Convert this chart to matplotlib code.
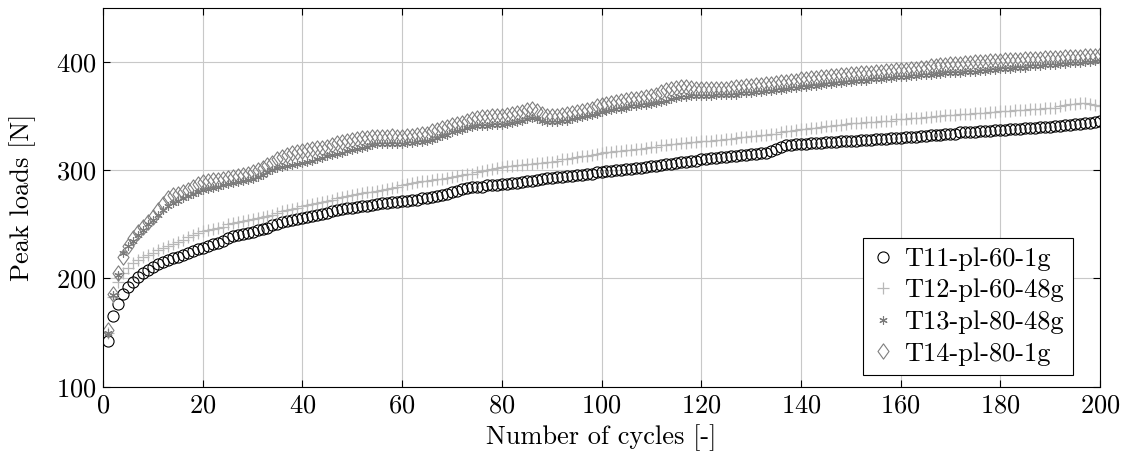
import numpy as np
import matplotlib.pyplot as plt
from matplotlib.path import Path

plt.rcParams['font.family'] = 'cmr10'
plt.rcParams['mathtext.fontset'] = 'cm'
plt.rcParams['axes.formatter.use_mathtext'] = True
plt.rcParams['font.size'] = 19

labels = ["T11-pl-60-1g", "T12-pl-60-48g", "T13-pl-80-48g", "T14-pl-80-1g"]

cycles = np.arange(1, 201)

t11 = [142,165,176,186,192,197,201,205,208,211,
       213,215,217,219,220,222,224,225,227,228,
       230,232,233,235,237,239,240,241,242,243,
       245,246,247,249,250,252,253,254,255,256,
       257,258,259,260,261,262,263,264,265,265,
       266,267,267,268,269,270,270,271,271,272,
       272,273,273,274,274,275,276,277,278,280,
       281,283,284,285,285,285,286,286,286,287,
       287,288,288,289,290,290,291,292,293,293,
       294,294,295,295,296,296,297,297,298,298,
       299,299,300,300,301,301,302,302,303,304,
       304,305,306,306,307,308,308,309,309,310,
       310,311,311,312,312,313,313,314,314,315,
       315,316,316,318,320,322,323,323,324,324,
       324,325,325,325,326,326,326,327,327,327,
       327,328,328,328,329,329,329,330,330,330,
       331,331,331,332,332,333,333,333,334,334,
       334,335,335,335,335,336,336,336,337,337,
       337,338,338,338,339,339,339,340,340,340,
       341,341,342,342,343,343,344,344,345,346]

t12 = [150,183,197,205,210,214,217,220,222,224,
       226,228,230,232,234,236,238,240,242,244,
       245,246,247,248,250,251,252,253,254,255,
       256,257,258,259,261,262,263,264,265,267,
       268,269,270,271,272,273,274,275,276,277,
       278,279,280,280,281,282,283,284,285,286,
       287,288,289,290,290,291,292,292,293,294,
       295,296,297,297,298,299,300,301,302,303,
       304,304,305,305,306,306,307,307,308,308,
       309,310,310,311,312,313,313,314,315,316,
       317,317,318,318,319,319,320,320,321,322,
       322,323,323,324,324,325,325,326,326,327,
       327,327,328,328,329,329,330,331,331,332,
       332,333,333,334,334,335,336,336,337,338,
       338,339,339,340,341,341,342,342,343,344,
       344,344,345,345,345,346,346,346,347,347,
       347,348,348,348,349,349,350,350,351,351,
       351,352,352,352,353,353,353,354,354,355,
       355,355,356,356,356,357,357,357,358,358,
       358,359,360,361,361,362,362,361,360,359]

t13 = [150,185,203,224,230,235,240,245,250,254,
       259,263,267,270,272,274,276,278,280,282,
       283,284,285,286,287,288,289,290,291,292,
       294,296,298,300,302,303,304,305,306,307,
       308,309,310,311,313,314,315,316,318,319,
       320,321,322,323,324,324,324,324,324,324,
       325,325,326,326,327,328,330,332,333,335,
       336,337,339,340,341,341,341,342,342,342,
       343,344,345,346,347,348,347,346,345,345,
       345,346,346,347,348,349,350,351,352,354,
       355,356,357,357,358,359,359,360,360,361,
       362,363,364,366,367,368,368,369,369,369,
       369,369,370,370,370,370,370,371,371,371,
       372,372,373,373,374,374,375,376,376,377,
       377,378,378,379,380,380,381,381,382,382,
       383,383,383,384,384,384,385,385,386,386,
       386,387,387,388,388,388,389,389,390,390,
       390,390,391,391,391,392,392,393,393,394,
       394,394,395,395,395,396,396,396,397,397,
       397,398,398,399,399,399,400,400,401,401]

t14 = [152,186,205,220,230,237,243,248,252,257,
       263,269,274,277,278,280,282,285,287,289,
       290,291,291,292,293,294,295,296,297,298,
       300,302,305,307,310,312,314,316,317,318,
       319,320,321,321,322,323,325,326,327,328,
       329,330,330,331,331,331,331,332,331,331,
       332,332,333,334,334,336,337,339,340,342,
       343,344,346,347,348,349,349,350,350,350,
       351,352,353,354,356,357,355,352,350,350,
       350,351,352,353,354,355,356,357,359,360,
       361,362,363,364,365,366,366,367,368,369,
       370,372,374,375,376,377,377,376,375,375,
       375,375,375,375,375,376,377,377,378,378,
       379,379,380,380,381,382,382,383,383,384,
       384,385,385,386,386,387,387,388,388,389,
       389,390,390,390,391,391,392,392,393,393,
       393,394,394,395,395,396,396,397,397,398,
       398,398,399,399,400,400,400,401,401,401,
       402,402,402,402,403,403,403,403,404,404,
       404,404,405,405,405,405,406,406,406,407]

# pgfplots-like tall diamond
diamond = Path([(0, 1), (0.72, 0), (0, -1), (-0.72, 0), (0, 1)],
               [Path.MOVETO, Path.LINETO, Path.LINETO, Path.LINETO, Path.CLOSEPOLY])

fig = plt.figure(figsize=(11.28, 4.61), dpi=100)
ax = fig.add_axes([0.0913, 0.1612, 0.8839, 0.8214])

ax.plot(cycles, t11, ls='none', marker='o', ms=8, mfc='none', mec='black', mew=0.8, label=labels[0])
ax.plot(cycles, t12, ls='none', marker='+', ms=8, mec='#b8b8b8', mew=0.9, label=labels[1])
ax.plot(cycles, t13, ls='none', marker=(6, 2, 0), ms=6, mec='#7a7a7a', mew=0.8, label=labels[2])
ax.plot(cycles, t14, ls='none', marker=diamond, ms=11, mfc='none', mec='#7f7f7f', mew=0.8, label=labels[3])

ax.set_xlim(0, 200)
ax.set_ylim(100, 450)
ax.set_xticks(np.arange(0, 201, 20))
ax.set_yticks([100, 200, 300, 400])
ax.grid(True, color='#c8c8c8', lw=0.8)
ax.set_axisbelow(True)
ax.tick_params(direction='in', top=True, right=True, length=5, width=0.8, labelsize=19, pad=5)
for s in ax.spines.values():
    s.set_linewidth(0.8)

ax.set_xlabel('Number of cycles [-]', fontsize=19, labelpad=5)
ax.set_ylabel('Peak loads [N]', fontsize=19, labelpad=14)

leg = ax.legend(loc='lower right', bbox_to_anchor=(0.973, 0.031), borderaxespad=0,
                fancybox=False, framealpha=1, edgecolor='black', fontsize=19,
                handlelength=0.8, handletextpad=0.4, borderpad=0.35, labelspacing=0.3)
leg.get_frame().set_linewidth(0.8)

fig.savefig('out.png', dpi=100)
